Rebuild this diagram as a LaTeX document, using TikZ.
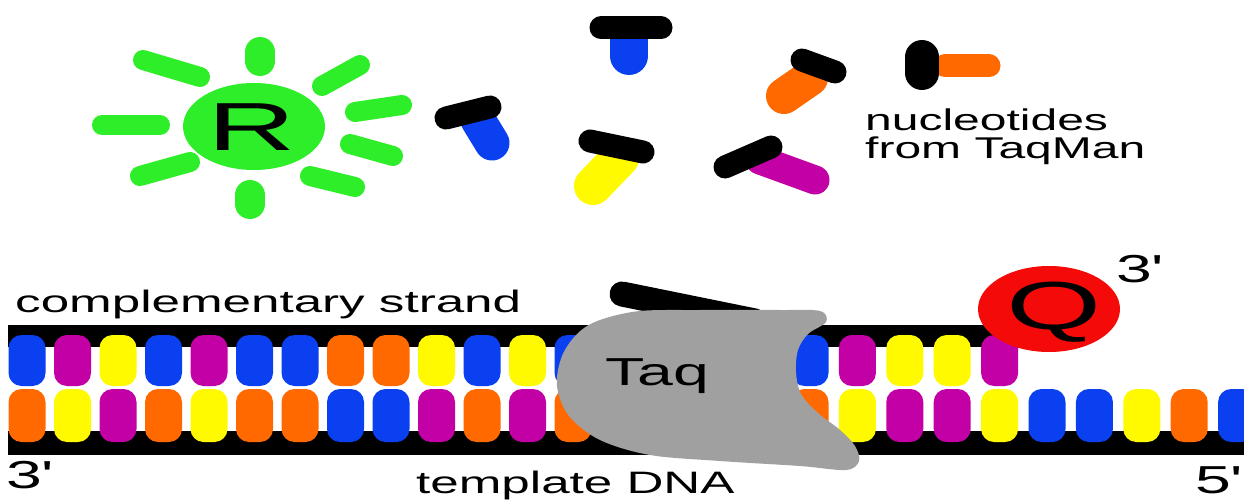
\documentclass[tikz,border=0pt]{standalone}
\usepackage{fontspec}
\setmainfont{Liberation Sans}
\newfontfamily\labelfont{Liberation Sans}[FakeStretch=1.65]
\newfontfamily\notefont{Liberation Sans}[FakeStretch=1.6]
\newfontfamily\bigfont{Liberation Sans}[FakeStretch=1.8]
\definecolor{nblue}{RGB}{10,64,240}
\definecolor{nmag}{RGB}{195,0,165}
\definecolor{nyel}{RGB}{255,250,0}
\definecolor{norg}{RGB}{255,105,0}
\definecolor{raygreen}{RGB}{45,238,40}
\definecolor{taqgray}{RGB}{160,160,160}
\definecolor{qred}{RGB}{245,10,10}
\begin{document}
\begin{tikzpicture}[x=1pt,y=-1pt,
  sunray/.style={draw=raygreen,line width=20pt,line cap=round},
  stem/.style={line width=#1,line cap=round},
  head/.style={draw=black,line width=23pt,line cap=round},
  lbl/.style={inner sep=0pt,anchor=base west,font=\labelfont\fontsize{31}{31}\selectfont},
  endlbl/.style={inner sep=0pt,anchor=base west,font=\labelfont\fontsize{39}{39}\selectfont},
  biglbl/.style={inner sep=0pt,anchor=base,font=\bigfont\fontsize{68}{68}\selectfont}]
\fill[white] (0,0) rectangle (1244,500);
\useasboundingbox (0,0) rectangle (1244,500);

% reporter dye with its rays
\fill[raygreen] (254,126.5) ellipse [x radius=71, y radius=43.5];
\draw[sunray,line width=30pt] (260,52) -- (260,61);
\draw[sunray,line width=30pt] (250,195) -- (250,204);
\draw[sunray] (102,125) -- (160,125);
\draw[sunray] (143,60) -- (200,77);
\draw[sunray] (140,176) -- (190,162);
\draw[sunray] (322,86) -- (360,65);
\draw[sunray] (355,112) -- (402,105);
\draw[sunray] (350,144) -- (393,156);
\draw[sunray] (310,176) -- (355,187);
\node[biglbl] (rlabel) at (252,150) {R};

% free nucleotides: coloured base under a black head
\draw[stem=38pt,nblue] (629,40) -- (629,56);
\draw[head] (601,28) -- (661,28);
\draw[stem=35pt,nblue] (478,120) -- (492,143);
\draw[head] (446,118) -- (490,107);
\draw[stem=38pt,nyel] (620,158) -- (593,186);
\draw[head] (590,141) -- (643,152);
\draw[stem=36pt,norg] (810,78) -- (784,96);
\draw[head] (802,60) -- (835,72);
\draw[stem=29pt,nmag] (760,160) -- (815,180);
\draw[head] (725,167) -- (771,147);
\draw[stem=23pt,norg] (945,66) -- (989,66);
\draw[head,line width=34pt] (922,57) -- (922,73);
\node[inner sep=0pt,anchor=north west,align=left,
  font=\notefont\fontsize{30}{28}\selectfont]
  (nuclabel) at (865,108.5) {nucleotides\\from TaqMan};

% backbones of the two strands
\fill[black] (8,325) rectangle (1005,347);
\fill[black] (8,431) rectangle (1244,455);

% complementary strand bases
\foreach \x/\c in {27/nblue,72.5/nmag,118/nyel,163.5/nblue,209/nmag,254.5/nblue,
  300/nblue,345.5/norg,391/norg,436.5/nyel,482/nblue,527.5/nyel,573/nblue,
  810/nblue,857.4/nmag,904.8/nyel,952.2/nyel,999.6/nmag}
  \fill[\c,rounded corners=13pt] (\x-18.5,335) rectangle ++(37,51);
% template strand bases
\foreach \x/\c in {27/norg,72.5/nyel,118/nmag,163.5/norg,209/nyel,254.5/norg,
  300/norg,345.5/nblue,391/nblue,436.5/nmag,482/norg,527.5/nmag,573/norg,
  810/norg,857.4/nyel,904.8/nmag,952.2/nmag,999.6/nyel,1047/nblue,1094.4/nblue,
  1141.8/nyel,1189.2/norg,1236.6/nblue}
  \fill[\c,rounded corners=13pt] (\x-18.5,389) rectangle ++(37,53);

% nucleotide being taken in by the polymerase
\draw[head,line width=25pt] (622,294) -- (755,321);

% Taq polymerase
\fill[taqgray] plot[smooth cycle,tension=0.55] coordinates {
  (600,320) (640,311) (700,310) (780,310) (820,311) (826,322) (808,334)
  (798,350) (796,372) (801,394) (818,413) (840,430) (855,446) (859,461)
  (846,470) (800,466) (720,461) (650,455) (600,440) (569,416) (557,386)
  (562,356) (578,333)};
\node[inner sep=0pt,anchor=base west,font=\labelfont\fontsize{39}{39}\selectfont]
  (taqlabel) at (605,385) {Taq};

% quencher at the probe's end
\fill[qred] (1049,309) ellipse [x radius=71, y radius=43];
\node[biglbl] (qlabel) at (1054,329) {Q};

% strand labels
\node[lbl] (comp) at (15,312) {complementary strand};
\node[lbl] (templ) at (416,493) {template DNA};
\node[endlbl] (threeA) at (6,488) {3\textquotesingle};
\node[endlbl] (threeB) at (1116,282) {3\textquotesingle};
\node[endlbl] (five) at (1195,493) {5\textquotesingle};
\end{tikzpicture}
\end{document}
